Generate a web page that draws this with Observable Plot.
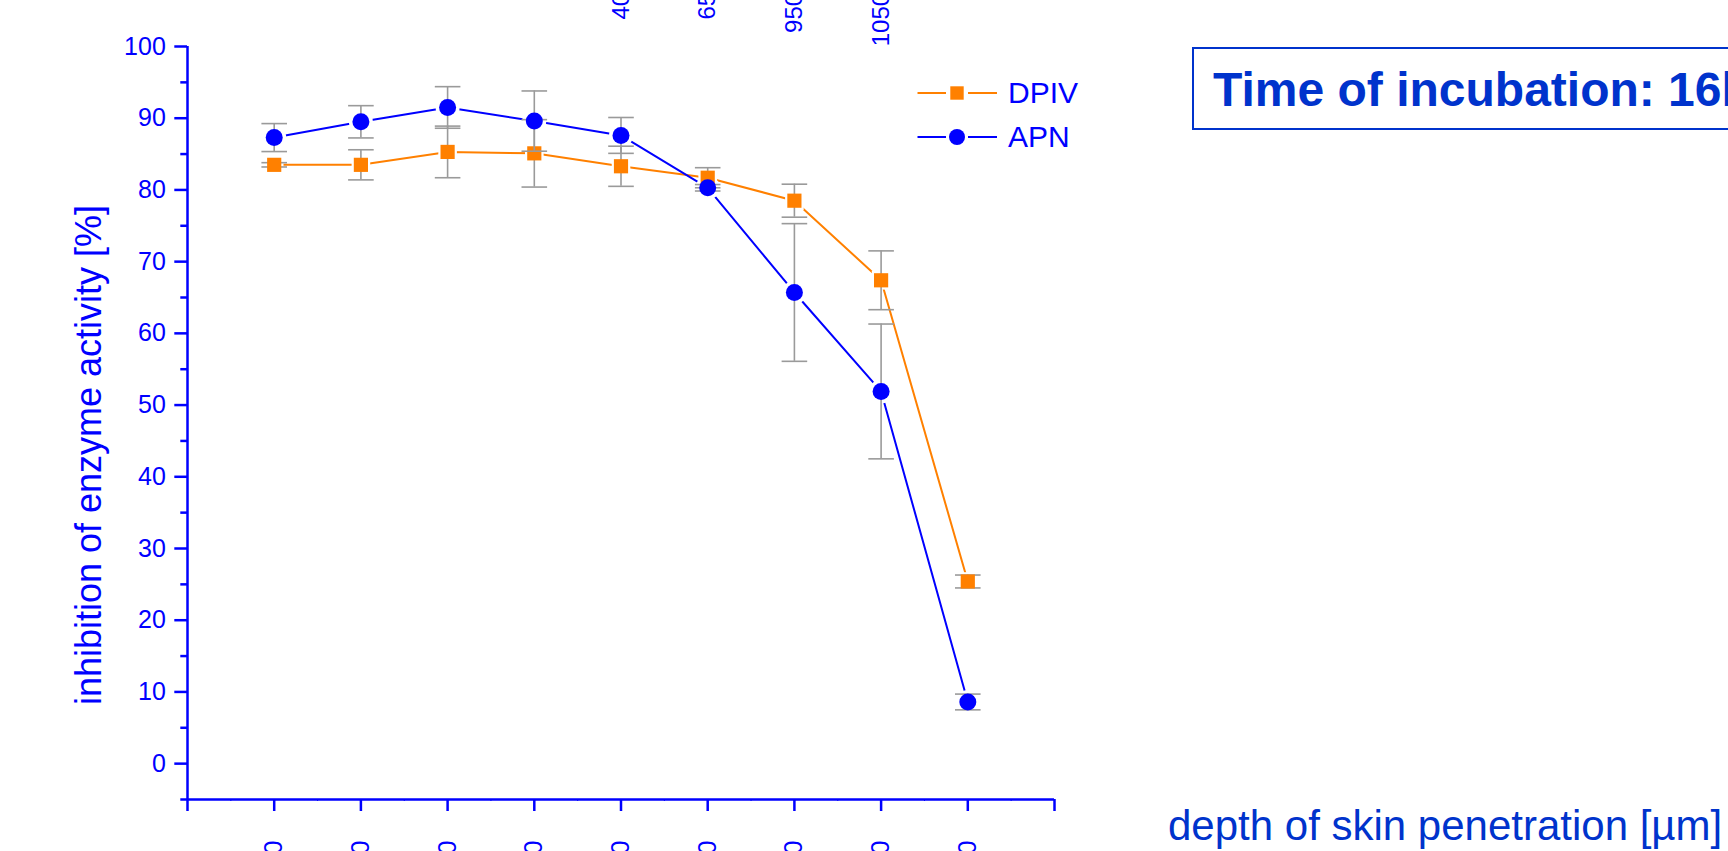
<!DOCTYPE html>
<html>
<head>
<meta charset="utf-8">
<script src="https://cdn.jsdelivr.net/npm/d3@7"></script>
<script src="https://cdn.jsdelivr.net/npm/@observablehq/plot@0.6"></script>
<style>
  html, body { margin: 0; padding: 0; overflow: hidden; background: #fff; width: 1728px; height: 851px; }
  #wrap { position: relative; width: 1728px; height: 851px; font-family: "Liberation Sans", Arial, sans-serif; }
  #chart { position: absolute; left: 0; top: 0; }
  .legend-row { position: absolute; left: 912px; height: 30px; display: flex; align-items: center;
    color: #0000ff; font-size: 30px; line-height: 30px; }
  .legend-row svg { display: block; margin-right: 6px; }
  #titlebox { position: absolute; left: 1192px; top: 47px; width: 700px; height: 79px; border: 2px solid #0033cc; }
  #titletext { position: absolute; left: 1213px; top: 66px; font-size: 48px; line-height: 48px; font-weight: bold;
    color: #0033cc; white-space: nowrap; }
  #xtitle { position: absolute; left: 1168px; top: 805px; font-size: 42px; line-height: 42px; color: #0033cc; white-space: nowrap; }
</style>
</head>
<body>
<div id="wrap">
  <div id="chart"></div>
  <div id="titlebox"></div>
  <div id="titletext">Time of incubation: 16h</div>
  <div id="xtitle">depth of skin penetration [µm]</div>
</div>
<script>
// Sampling positions along the depth axis and their range labels
const positions = [1, 2, 3, 4, 5, 6, 7, 8, 9];
const depthLabels = ["0-50", "50-150", "150-250", "250-400", "400-650", "650-950", "950-1050", "1050-1350", "1350-1650"];
// Range labels of the panel above (only their lower ends reach this view)
const upperPositions = [5, 6, 7, 8];
const upperLabels = ["400-650", "650-950", "950-1050", "1050-1350"];

// Inhibition of enzyme activity [%], mean ± error
const dpivValues = [83.5, 83.5, 85.3, 85.1, 83.3, 81.7, 78.5, 67.4, 25.4];
const dpivErrors = [0.3, 2.1, 3.6, 4.7, 2.8, 1.4, 2.3, 4.1, 0.9];
const apnValues = [87.3, 89.5, 91.5, 89.6, 87.6, 80.3, 65.7, 51.9, 8.6];
const apnErrors = [1.95, 2.25, 2.9, 4.2, 2.5, 0.45, 9.6, 9.4, 1.1];

const seriesNames = ["DPIV", "APN"];
const seriesColors = {DPIV: "#ff8000", APN: "#0000ff"};
const seriesSymbols = {DPIV: "square", APN: "circle"};

const yMajorTicks = [0, 10, 20, 30, 40, 50, 60, 70, 80, 90, 100];
const yMinorTicks = [-5, 5, 15, 25, 35, 45, 55, 65, 75, 85, 95];
const xMajorTicks = [0, 1, 2, 3, 4, 5, 6, 7, 8, 9, 10];
const xMinorTicks = [0.5, 1.5, 2.5, 3.5, 4.5, 5.5, 6.5, 7.5, 8.5, 9.5];

const makeRows = (name, values, errors) => positions.map((x, i) => ({
  series: name, x, value: values[i], err: errors[i], lo: values[i] - errors[i], hi: values[i] + errors[i]
}));
const dpiv = makeRows("DPIV", dpivValues, dpivErrors);
const apn = makeRows("APN", apnValues, apnErrors);

const bottomLabels = positions.map((x, i) => ({x, label: depthLabels[i]}));
const topLabels = upperPositions.map((x, i) => ({x, label: upperLabels[i]}));

// horizontal bar used as an error-bar cap
const capSymbol = {
  draw(context, size) {
    const w = Math.sqrt(size / Math.PI);
    context.moveTo(-w, 0);
    context.lineTo(w, 0);
  }
};

const blue = "#0000ff";
const axisWidth = 2.5;
const errColor = "#9a9a9a";
const symbolRadius = {DPIV: 8, APN: 8.5};

const seriesMarks = (rows) => {
  const name = rows[0].series;
  return [
    Plot.ruleX(rows, {x: "x", y1: "lo", y2: "hi", stroke: errColor, strokeWidth: 1.6}),
    Plot.dot(rows, {x: "x", y: "hi", symbol: capSymbol, r: 12.8, stroke: errColor, fill: "none", strokeWidth: 1.6}),
    Plot.dot(rows, {x: "x", y: "lo", symbol: capSymbol, r: 12.8, stroke: errColor, fill: "none", strokeWidth: 1.6}),
    Plot.dot(rows, {x: "x", y: "value", symbol: seriesSymbols[name], r: symbolRadius[name],
      fill: seriesColors[name], stroke: "none"})
  ];
};

const chart = Plot.plot({
  width: 1728,
  height: 900,
  marginLeft: 187,
  marginRight: 674,
  marginTop: 46,
  marginBottom: 101,
  style: {overflow: "visible", fontFamily: "'Liberation Sans', Arial, sans-serif", background: "transparent"},
  x: {domain: [0, 10], axis: null},
  y: {domain: [-5, 100], axis: null},
  marks: [
    // axes
    Plot.axisY({ticks: yMajorTicks, tickSize: 12.7, tickPadding: 9, fontSize: 25, color: blue, strokeWidth: axisWidth, label: null}),
    Plot.axisY({ticks: yMinorTicks, tickSize: 6.7, tickFormat: () => "", color: blue, strokeWidth: axisWidth, label: null}),
    Plot.axisX({ticks: xMajorTicks, tickSize: 12, tickFormat: () => "", color: blue, strokeWidth: axisWidth, label: null}),
    Plot.axisX({ticks: xMinorTicks, tickSize: 2, tickFormat: () => "", color: blue, strokeWidth: 1, label: null}),
    Plot.ruleX([0], {y1: -5, y2: 100, stroke: blue, strokeWidth: axisWidth}),
    Plot.ruleY([-5], {x1: 0, x2: 10, stroke: blue, strokeWidth: axisWidth}),
    // rotated range labels below and above
    Plot.text(bottomLabels, {x: "x", text: "label", frameAnchor: "bottom", dy: 41, rotate: -90,
      textAnchor: "end", lineAnchor: "middle", fontSize: 25, fill: blue}),
    Plot.text(topLabels, {x: "x", text: "label", frameAnchor: "top", dy: -115, rotate: -90,
      textAnchor: "end", lineAnchor: "middle", fontSize: 24, fill: blue}),
    // y axis title
    Plot.text(["inhibition of enzyme activity [%]"], {frameAnchor: "left", dx: -98, dy: 32, rotate: -90,
      fontSize: 36, fill: blue, textAnchor: "middle", lineAnchor: "middle"}),
    // connecting lines
    Plot.line(dpiv, {x: "x", y: "value", stroke: seriesColors.DPIV, strokeWidth: 2}),
    Plot.line(apn, {x: "x", y: "value", stroke: seriesColors.APN, strokeWidth: 2}),
    // white gaps around the symbols
    Plot.dot(dpiv, {x: "x", y: "value", symbol: "square", r: 10.5, fill: "white"}),
    Plot.dot(apn, {x: "x", y: "value", symbol: "circle", r: 12, fill: "white"}),
    ...seriesMarks(dpiv),
    ...seriesMarks(apn)
  ]
});
document.getElementById("chart").appendChild(chart);

// legend
const wrap = document.getElementById("wrap");
const legendTops = {DPIV: 78, APN: 122};
seriesNames.forEach(name => {
  const row = document.createElement("div");
  row.className = "legend-row";
  row.style.top = legendTops[name] + "px";
  const c = seriesColors[name];
  const sym = seriesSymbols[name] === "square"
    ? `<rect x="38.3" y="8.3" width="13.4" height="13.4" fill="${c}"/>`
    : `<circle cx="45" cy="15" r="8" fill="${c}"/>`;
  row.innerHTML = `<svg width="90" height="30" viewBox="0 0 90 30">
      <line x1="5.5" y1="15" x2="34" y2="15" stroke="${c}" stroke-width="2"/>
      <line x1="56" y1="15" x2="85" y2="15" stroke="${c}" stroke-width="2"/>
      ${sym}</svg><span>${name}</span>`;
  wrap.appendChild(row);
});
</script>
</body>
</html>
